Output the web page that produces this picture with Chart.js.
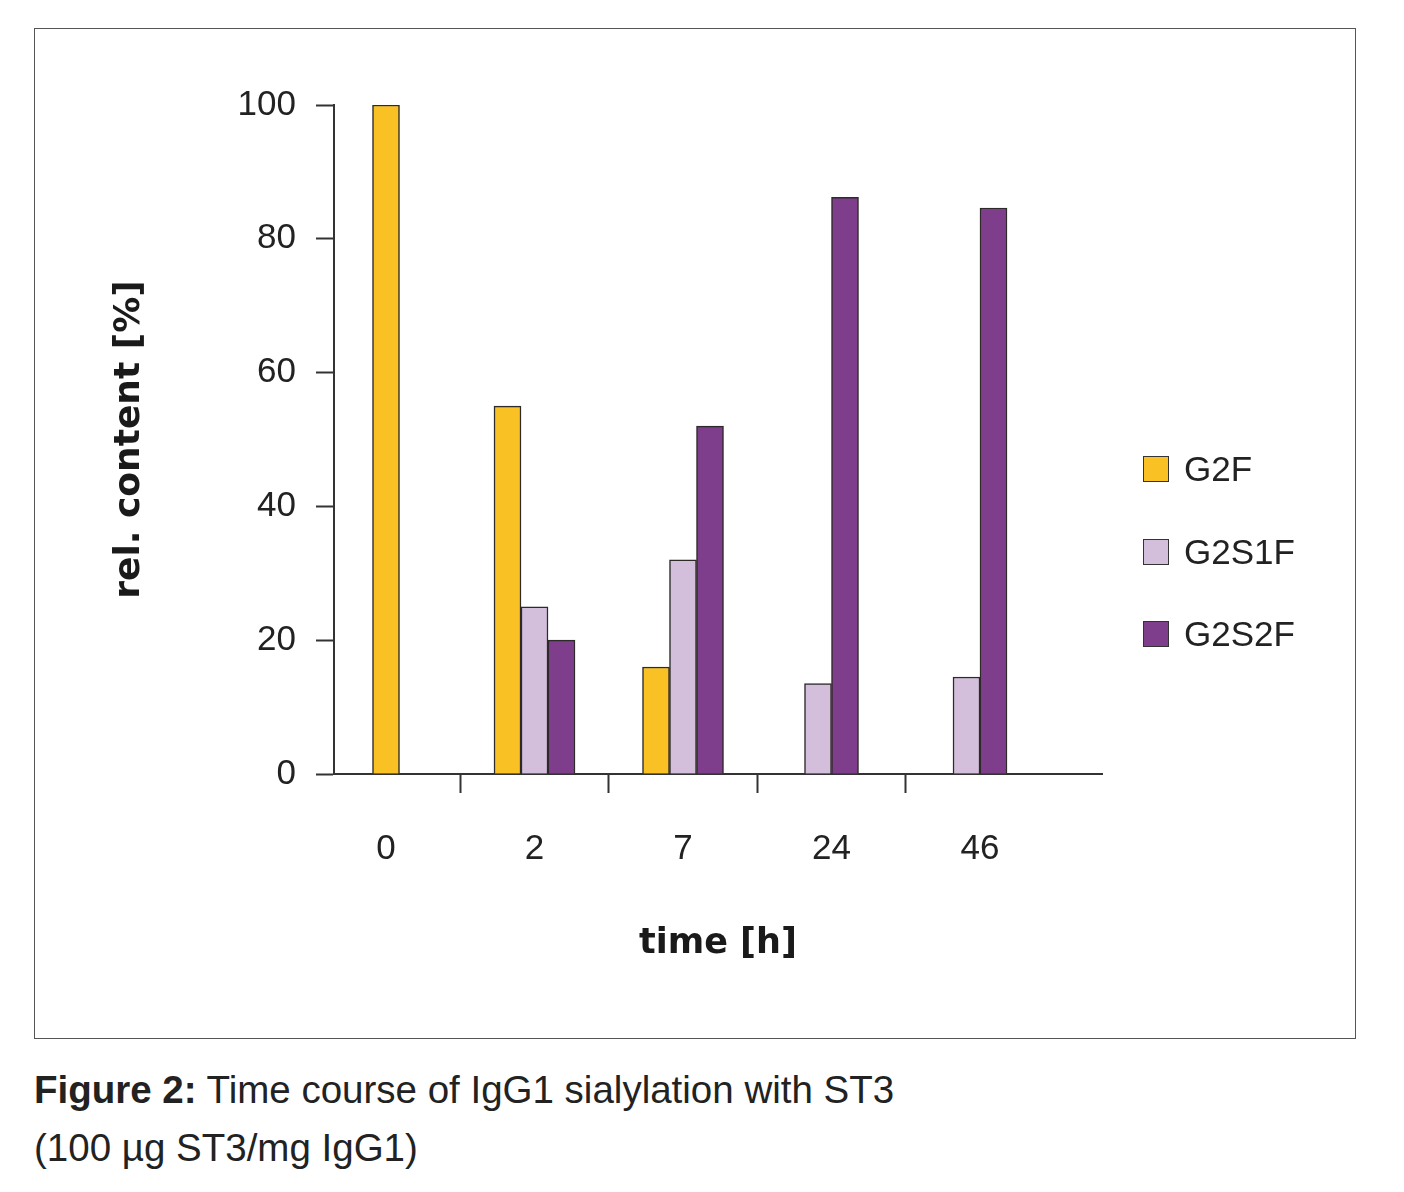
<!DOCTYPE html>
<html>
<head>
<meta charset="utf-8">
<script src="https://cdn.jsdelivr.net/npm/chart.js@4"></script>
<style>
html,body{margin:0;padding:0;background:#fff;}
body{width:1404px;height:1192px;position:relative;overflow:hidden;font-family:"Liberation Sans",Arial,sans-serif;color:#222;}
#frame{position:absolute;left:34px;top:28px;width:1322px;height:1011px;box-sizing:border-box;border:1.5px solid #555;}
#c{position:absolute;left:0;top:0;}
#legend{position:absolute;left:1143px;top:456px;}
.item{position:absolute;left:0;height:26px;display:flex;align-items:center;white-space:nowrap;}
.sw{width:26px;height:26px;box-sizing:border-box;border:1.5px solid #333;margin-right:15px;}
.lt{font-size:35px;line-height:26px;color:#222;}
#caption{position:absolute;left:34px;top:1061px;font-size:38.5px;line-height:58px;color:#222;white-space:nowrap;}
#caption b{font-weight:bold;}
</style>
</head>
<body>
<div id="frame"></div>
<canvas id="c" width="1404" height="1040"></canvas>
<div id="legend"></div>
<div id="caption"><b>Figure 2:</b> Time course of IgG1 sialylation with ST3<br>(100 µg ST3/mg IgG1)</div>
<script>
// ---- data ----
const timeLabels = ['0', '2', '7', '24', '46'];
const seriesNames = ['G2F', 'G2S1F', 'G2S2F'];
const g2f   = [100, 55, 16, null, null];
const g2s1f = [null, 25, 32, 13.5, 14.5];
const g2s2f = [null, 20, 52, 86.2, 84.6];
const yTickValues = [0, 20, 40, 60, 80, 100];
const seriesColors = ['#F9C124', '#D3BFDC', '#7F3E8C'];

const toPoints = arr => arr.map((v, i) => ({x: i, y: v}));
const seriesValues = [g2f, g2s1f, g2s2f];

const datasets = seriesNames.map((name, k) => ({
  label: name,
  data: toPoints(seriesValues[k]),
  backgroundColor: seriesColors[k],
  borderColor: '#2e2a2a',
  borderWidth: 1.5,
  barThickness: 27,
  skipNull: true
}));

const chart = new Chart(document.getElementById('c'), {
  type: 'bar',
  data: {datasets},
  options: {
    responsive: false,
    animation: false,
    devicePixelRatio: 1,
    layout: {padding: {left: 0, top: 105, right: 302, bottom: 0}},
    plugins: {legend: {display: false}, tooltip: {enabled: false}},
    scales: {
      x: {
        type: 'linear',
        offset: false,
        min: (334 - 386) / 148.5,
        max: (1102 - 386) / 148.5,
        grid: {
          offset: false,
          drawOnChartArea: false,
          drawTicks: true,
          tickLength: 19,
          tickWidth: 2,
          tickColor: ctx => (ctx.tick && Math.abs(ctx.tick.value % 1 - 0.5) < 1e-6) ? '#333' : 'rgba(0,0,0,0)'
        },
        border: {display: true, color: '#333', width: 2},
        afterBuildTicks: scale => {
          const t = [];
          for (let i = 0; i < timeLabels.length; i++) {
            t.push({value: i});
            if (i < timeLabels.length - 1) t.push({value: i + 0.5});
          }
          scale.ticks = t;
        },
        ticks: {
          autoSkip: false,
          maxRotation: 0,
          padding: 35,
          color: '#222',
          font: {family: '"Liberation Sans", Arial, sans-serif', size: 35},
          callback: v => Number.isInteger(v) ? timeLabels[v] : ''
        },
        title: {
          display: true,
          text: 'time [h]',
          color: '#1a1a1a',
          font: {family: '"DejaVu Sans", sans-serif', size: 35, weight: 'bold'},
          padding: {top: 0, bottom: 75}
        },
        afterFit: scale => { scale.height = 266; }
      },
      y: {
        min: 0,
        max: 100,
        afterBuildTicks: scale => { scale.ticks = yTickValues.map(v => ({value: v})); },
        grid: {drawOnChartArea: false, drawTicks: true, tickLength: 18, tickWidth: 2, tickColor: '#333'},
        border: {display: true, color: '#333', width: 2},
        ticks: {
          padding: 20,
          color: '#222',
          font: {family: '"Liberation Sans", Arial, sans-serif', size: 35}
        },
        title: {
          display: true,
          text: 'rel. content [%]',
          color: '#1a1a1a',
          font: {family: '"DejaVu Sans", sans-serif', size: 36, weight: 'bold'},
          padding: {top: 108, bottom: 0}
        },
        afterFit: scale => { scale.width = 334; }
      }
    }
  }
});

// HTML legend built from the chart's datasets
const legendEl = document.getElementById('legend');
const legendTops = [0, 83, 165];
chart.data.datasets.forEach((ds, i) => {
  const item = document.createElement('div');
  item.className = 'item';
  item.style.top = legendTops[i] + 'px';
  const sw = document.createElement('div');
  sw.className = 'sw';
  sw.style.background = ds.backgroundColor;
  const lt = document.createElement('span');
  lt.className = 'lt';
  lt.textContent = ds.label;
  item.appendChild(sw);
  item.appendChild(lt);
  legendEl.appendChild(item);
});
</script>
</body>
</html>
